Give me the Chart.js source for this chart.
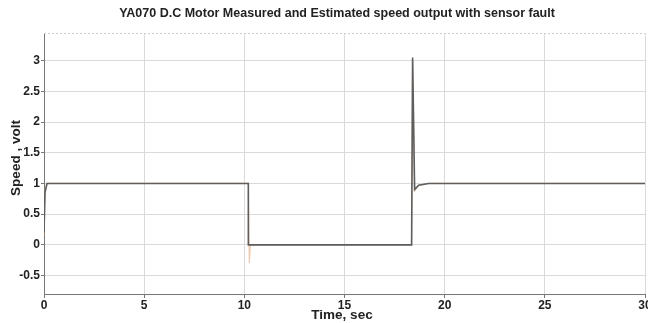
<!DOCTYPE html>
<html>
<head>
<meta charset="utf-8">
<script src="https://cdn.jsdelivr.net/npm/chart.js@4/dist/chart.umd.min.js"></script>
<style>
  html, body { margin: 0; padding: 0; background: #fff; }
  #wrap { width: 648px; height: 323px; }
</style>
</head>
<body>
<div id="wrap"><canvas id="myChart"></canvas></div>
<script>
// values
var timeSec   = [0, 0.05, 0.15, 10.2, 10.2, 18.35, 18.4, 18.5, 18.7, 19.2, 30];
var measured  = [0.2, 0.85, 1, 1, 0, 0, 3.05, 0.9, 0.97, 1, 1];

var estTime   = [0, 0.05, 0.15, 10.2, 10.25, 10.3, 18.35, 18.4, 18.5, 18.7, 19.2, 30];
var estimated = [0.15, 0.9, 1, 1, -0.3, 0, 0, 3.0, 0.88, 0.97, 1, 1];

var xTicks = [0, 5, 10, 15, 20, 25, 30];
var yTicks = [-0.5, 0, 0.5, 1, 1.5, 2, 2.5, 3];

var titleText = 'YA070 D.C Motor Measured and Estimated speed output with sensor fault';
var xLabel = 'Time, sec';
var yLabel = 'Speed , volt';

function toPoints(xs, ys) {
    var pts = [];
    for (var i = 0; i < xs.length; i++) {
        pts.push({ x: xs[i], y: ys[i] });
    }
    return pts;
}

var labelFont = { family: 'Liberation Sans, Arial, sans-serif', size: 12, weight: 'bold' };

// title, axis titles and top frame line, drawn by hand so the plot box stays put
var textPlugin = {
    id: 'textPlugin',
    afterDraw: function(chart) {
        var ctx = chart.ctx;
        var area = chart.chartArea;
        ctx.save();
        ctx.strokeStyle = '#cfcfcf';
        ctx.lineWidth = 1;
        ctx.setLineDash([2, 2]);
        ctx.beginPath();
        ctx.moveTo(area.left, area.top + 0.5);
        ctx.lineTo(area.right, area.top + 0.5);
        ctx.stroke();
        ctx.setLineDash([]);

        ctx.fillStyle = '#222';
        ctx.textAlign = 'center';
        ctx.textBaseline = 'middle';
        ctx.font = 'bold 12.5px Liberation Sans, Arial, sans-serif';
        ctx.fillText(titleText, 337, 14);
        ctx.font = 'bold 13.5px Liberation Sans, Arial, sans-serif';
        ctx.fillText(xLabel, 342, 315);

        ctx.translate(16, 158);
        ctx.rotate(-Math.PI / 2);
        ctx.fillText(yLabel, 0, 0);
        ctx.restore();
    }
};

var ctx = document.getElementById('myChart');

var myChart = new Chart(ctx, {
    type: 'line',
    data: {
        datasets: [{
            label: 'Measured',
            data: toPoints(timeSec, measured),
            borderColor: '#5e5e5e',
            borderWidth: 1.6,
            pointRadius: 0,
            tension: 0,
            order: 1
        }, {
            label: 'Estimated',
            data: toPoints(estTime, estimated),
            borderColor: 'rgba(225,150,95,0.5)',
            borderWidth: 1.2,
            pointRadius: 0,
            tension: 0,
            order: 2
        }]
    },
    options: {
        responsive: true,
        maintainAspectRatio: false,
        animation: false,
        layout: { padding: { top: 33, right: 3, left: 0, bottom: 0 } },
        plugins: {
            legend: { display: false },
            tooltip: { enabled: false },
            title: { display: false }
        },
        scales: {
            x: {
                type: 'linear',
                min: 0,
                max: 30,
                afterBuildTicks: function(s) {
                    s.ticks = xTicks.map(function(v) { return { value: v }; });
                },
                afterFit: function(s) {
                    s.height = 29;
                    s.paddingLeft = 0;
                    s.paddingRight = 0;
                },
                grid: {
                    color: '#dadada',
                    tickLength: 4,
                    tickColor: '#777'
                },
                border: { display: true, color: '#777', width: 1 },
                ticks: {
                    color: '#222',
                    font: labelFont,
                    padding: 0,
                    maxRotation: 0,
                    callback: function(v) { return String(v); }
                }
            },
            y: {
                type: 'linear',
                min: -0.8,
                max: 3.45,
                afterBuildTicks: function(s) {
                    s.ticks = yTicks.map(function(v) { return { value: v }; });
                },
                afterFit: function(s) {
                    s.width = 44;
                    s.paddingTop = 0;
                    s.paddingBottom = 0;
                },
                grid: {
                    color: '#dadada',
                    tickLength: 3,
                    tickColor: '#777'
                },
                border: { display: true, color: '#777', width: 1 },
                ticks: {
                    color: '#222',
                    font: labelFont,
                    padding: 1,
                    callback: function(v) { return String(v); }
                }
            }
        }
    },
    plugins: [textPlugin]
});
</script>
</body>
</html>
